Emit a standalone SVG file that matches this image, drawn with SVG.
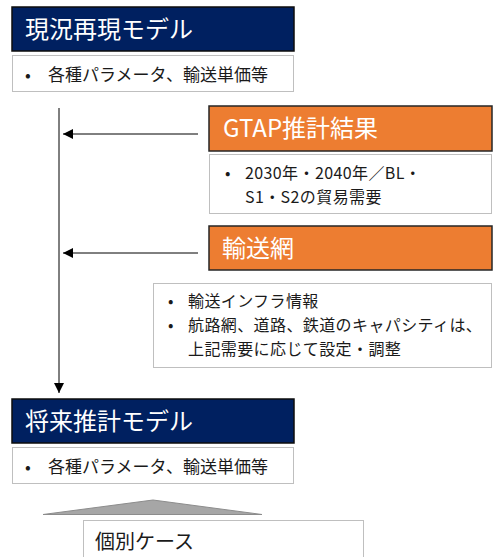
<svg xmlns="http://www.w3.org/2000/svg" width="494" height="557" viewBox="0 0 494 557">
<style>
text{font-family:"Noto Sans CJK JP","Noto Sans",sans-serif;}
.navy{fill:#002060;stroke:#0d0d0d;stroke-width:1.5;}
.orange{fill:#ED7D31;stroke:#262626;stroke-width:1.5;}
.sub{fill:#ffffff;stroke:#BFBFBF;stroke-width:1;}
.title{fill:#ffffff;font-size:24px;}
.body{fill:#1a1a1a;font-size:17px;}
.multi{fill:#1a1a1a;font-size:16px;letter-spacing:0.4px;}
.conn{stroke:#000;stroke-width:1;fill:none;}
</style>
<defs>
<marker id="ah" viewBox="0 0 10 10" refX="10" refY="5" markerWidth="10" markerHeight="10" markerUnits="userSpaceOnUse" orient="auto">
<path d="M0,0 L10,5 L0,10 z" fill="#000"/>
</marker>
</defs>
<rect width="494" height="557" fill="#ffffff"/>
<g id="connectors">
<line class="conn" x1="59" y1="108" x2="59" y2="393" marker-end="url(#ah)"/>
<line class="conn" x1="198" y1="134" x2="63" y2="134" marker-end="url(#ah)"/>
<line class="conn" x1="198" y1="253" x2="63" y2="253" marker-end="url(#ah)"/>
</g>
<g id="current-model">
<rect class="navy" x="12" y="7" width="282" height="44"/>
<text class="title" x="25" y="38">現況再現モデル</text>
</g>
<g id="current-model-detail">
<rect class="sub" x="12.5" y="55.5" width="281" height="36"/>
<text class="body" y="81"><tspan x="25">•</tspan><tspan x="48">各種パラメータ、輸送単価等</tspan></text>
</g>
<g id="gtap">
<rect class="orange" x="209" y="106" width="283" height="45"/>
<text class="title" x="223" y="137">GTAP推計結果</text>
</g>
<g id="gtap-detail">
<rect class="sub" x="209.5" y="154.5" width="282" height="59"/>
<text class="multi"><tspan x="225" y="179">•</tspan><tspan x="245" y="179">2030年・2040年／BL・</tspan><tspan x="245" y="203">S1・S2の貿易需要</tspan></text>
</g>
<g id="network">
<rect class="orange" x="209" y="226" width="283" height="44"/>
<text class="title" x="222" y="257">輸送網</text>
</g>
<g id="network-detail">
<rect class="sub" x="153.5" y="283.5" width="338" height="84"/>
<text class="multi"><tspan x="168" y="307">•</tspan><tspan x="188" y="307">輸送インフラ情報</tspan><tspan x="168" y="331">•</tspan><tspan x="188" y="331">航路網、道路、鉄道のキャパシティは、</tspan><tspan x="188" y="355">上記需要に応じて設定・調整</tspan></text>
</g>
<g id="future-model">
<rect class="navy" x="12" y="399" width="282" height="44"/>
<text class="title" x="25" y="430">将来推計モデル</text>
</g>
<g id="future-model-detail">
<rect class="sub" x="12.5" y="447.5" width="281" height="36"/>
<text class="body" y="473"><tspan x="25">•</tspan><tspan x="48">各種パラメータ、輸送単価等</tspan></text>
</g>
<g id="split">
<path d="M43,514.5 L153,500 L262,514.5 Z" fill="#A6A6A6" stroke="#8C8C8C" stroke-width="1"/>
</g>
<g id="cases">
<rect class="sub" x="83.5" y="520.5" width="280" height="50"/>
<text x="95" y="549" style="font-size:20px;fill:#1a1a1a;">個別ケース</text>
</g>
</svg>
